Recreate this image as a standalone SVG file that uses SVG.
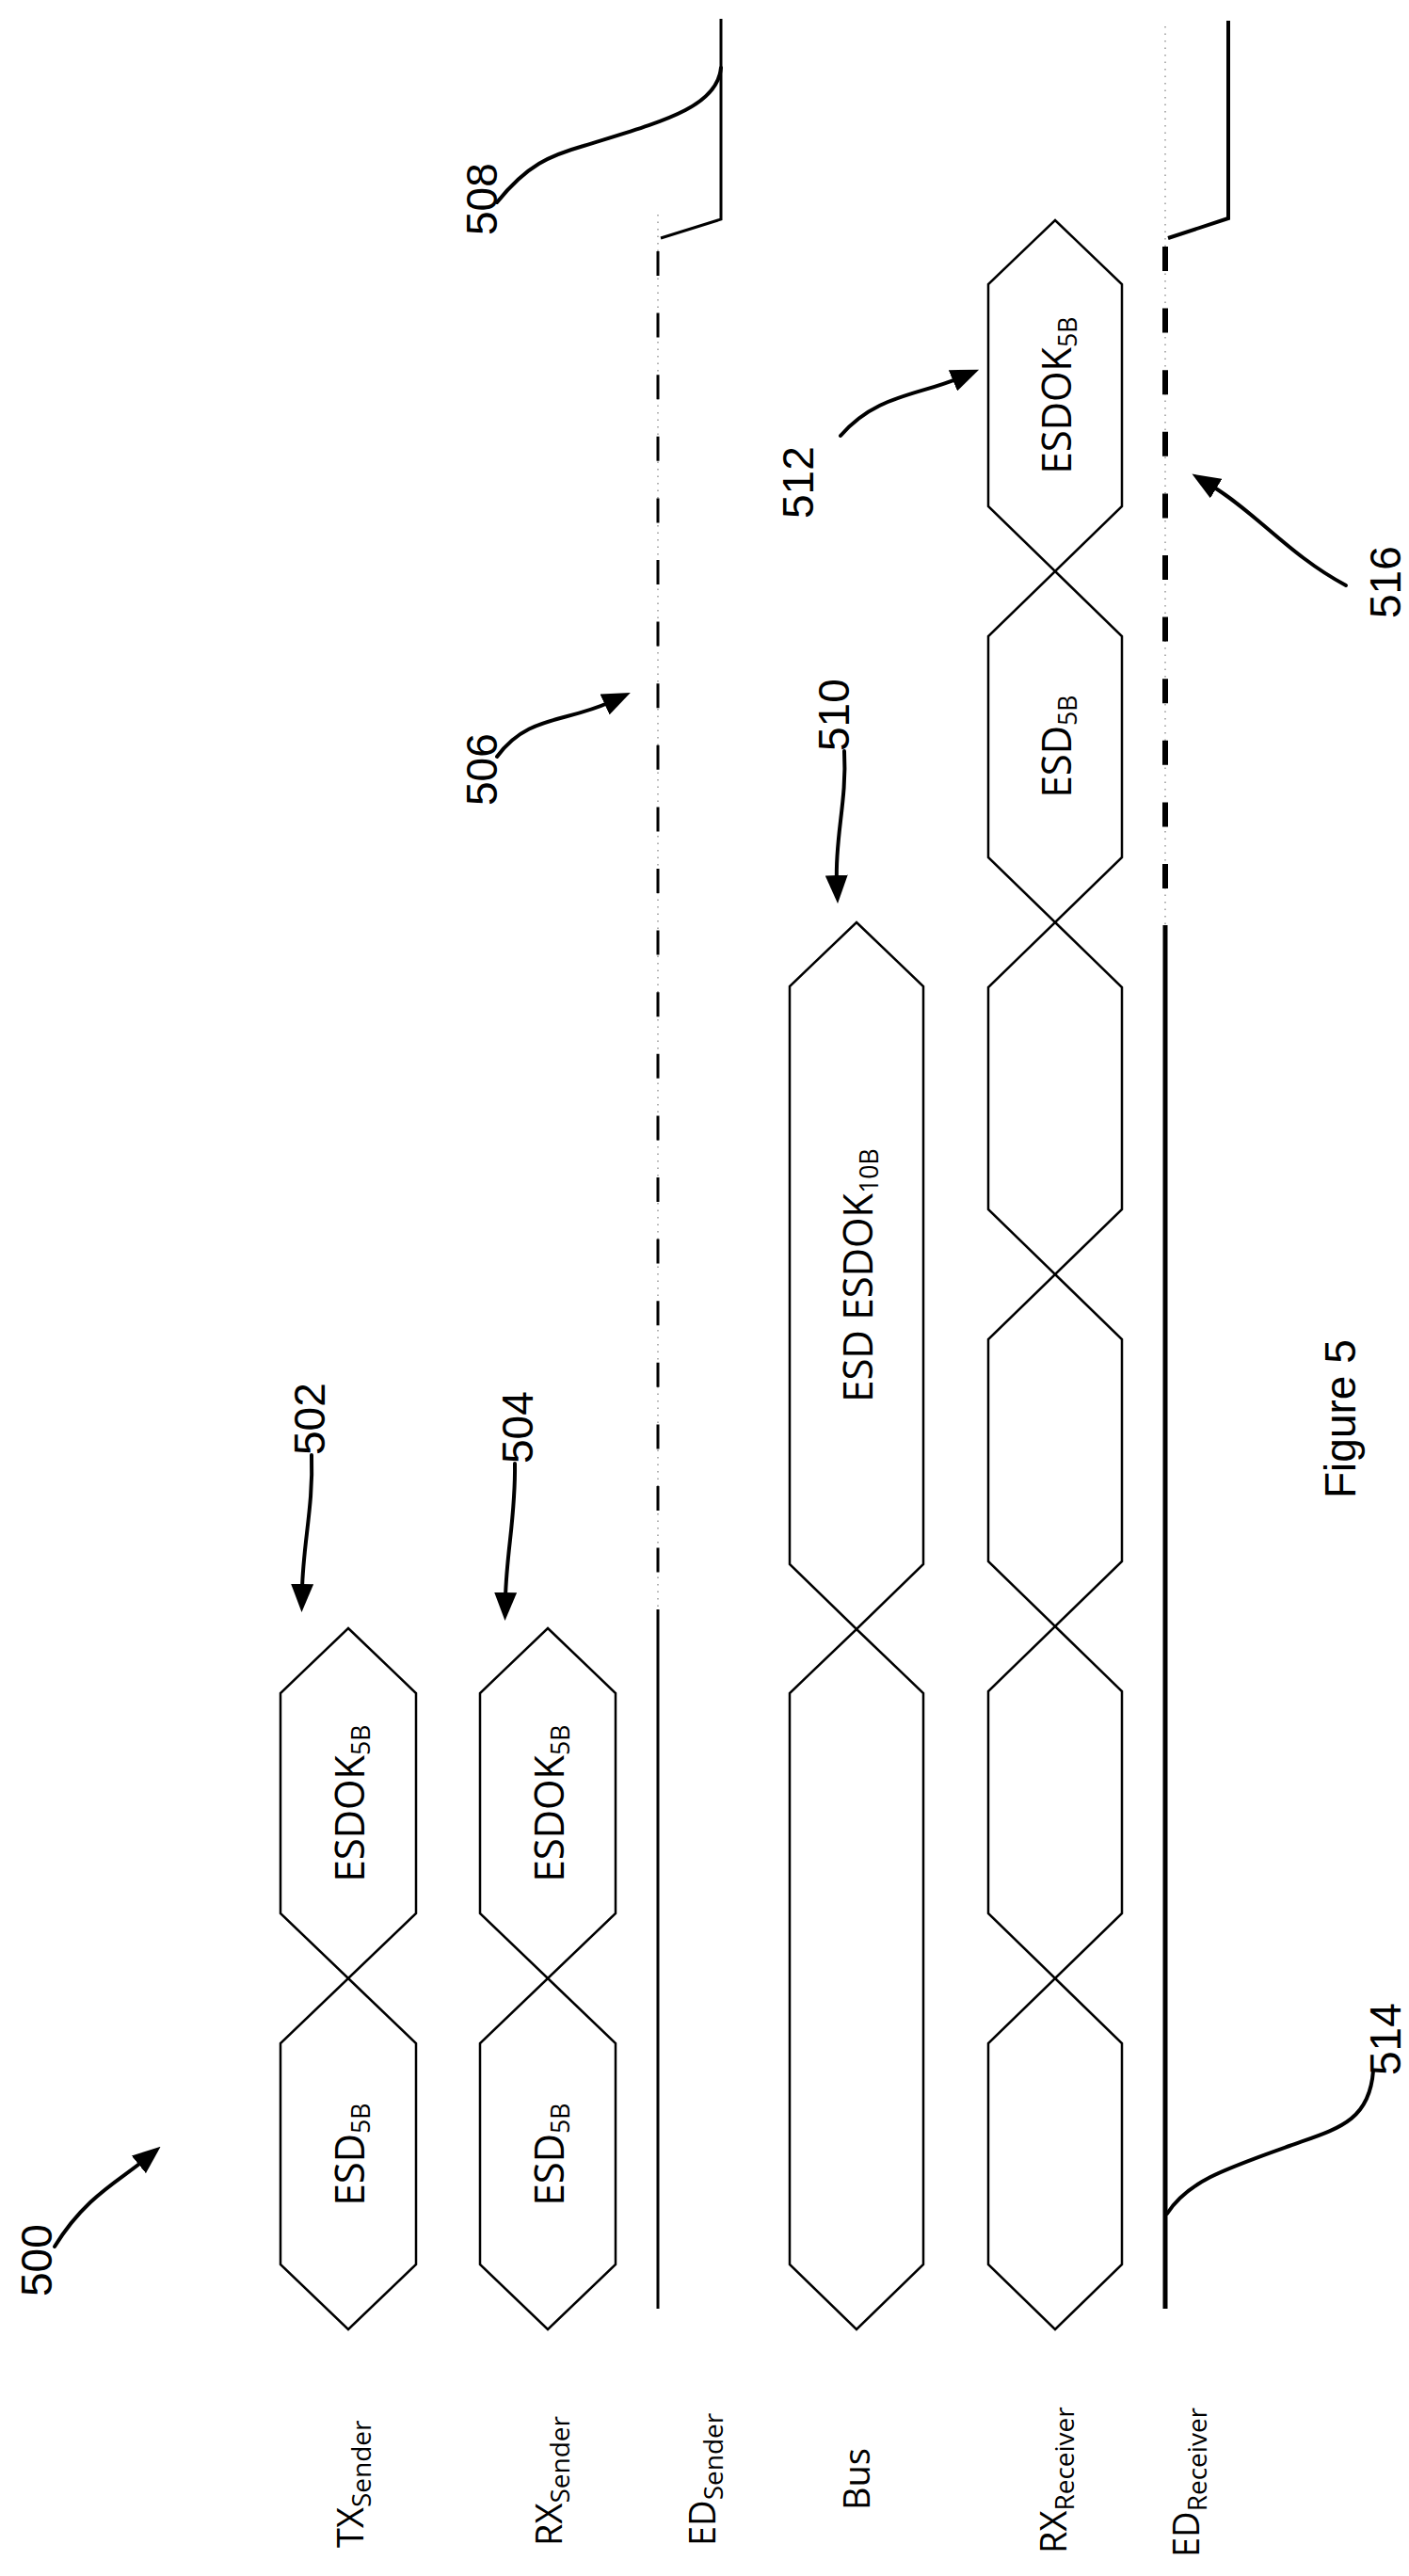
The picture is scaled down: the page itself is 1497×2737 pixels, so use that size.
<svg xmlns="http://www.w3.org/2000/svg" width="1497" height="2737" viewBox="0 0 1497 2737">
<style>
.hex{fill:none;stroke:#000;stroke-width:2.5;stroke-linejoin:miter}
.ht{font-family:"Open Sans","Liberation Sans",sans-serif;font-size:44px;fill:#000}
.lb{font-family:"Open Sans","Liberation Sans",sans-serif;font-size:38px;fill:#000}
.num{font-family:"Liberation Sans",Arial,sans-serif;font-size:46px;fill:#000}
.ld{fill:none;stroke:#000;stroke-width:4;stroke-linecap:round}
.arr{fill:none;stroke:#000;stroke-width:4;stroke-linecap:round;marker-end:url(#ah)}
.dot{stroke:#999;stroke-width:1.5;stroke-dasharray:1.5 6}
</style>
<defs>
<marker id="ah" markerUnits="userSpaceOnUse" markerWidth="30" markerHeight="24" refX="6" refY="12" orient="auto">
<path d="M0,0 L30,12 L0,24 Z" fill="#000"/>
</marker>
</defs>
<rect width="1497" height="2737" fill="#fff"/>

<g id="labels">
<text class="lb" transform="translate(386,2707) rotate(-90)">TX<tspan font-size="28" dy="8">Sender</tspan></text>
<text class="lb" transform="translate(597,2705) rotate(-90)">RX<tspan font-size="28" dy="8">Sender</tspan></text>
<text class="lb" transform="translate(760,2705) rotate(-90)">ED<tspan font-size="28" dy="8">Sender</tspan></text>
<text class="lb" transform="translate(924,2667) rotate(-90)">Bus</text>
<text class="lb" transform="translate(1133,2713) rotate(-90)">RX<tspan font-size="28" dy="8">Receiver</tspan></text>
<text class="lb" transform="translate(1274,2717) rotate(-90)">ED<tspan font-size="28" dy="8">Receiver</tspan></text>
</g>

<g id="tx-sender">
<path class="hex" d="M370,1730 L442,1799 L442,2033 L370,2102 L298,2033 L298,1799 Z"/>
<path class="hex" d="M370,2102 L442,2171 L442,2406 L370,2475 L298,2406 L298,2171 Z"/>
<text class="ht" text-anchor="middle" transform="translate(387,1916) rotate(-90) scale(0.95,1)">ESDOK<tspan font-size="28" dy="6">5B</tspan></text>
<text class="ht" text-anchor="middle" transform="translate(387,2289) rotate(-90) scale(0.95,1)">ESD<tspan font-size="28" dy="6">5B</tspan></text>
</g>

<g id="rx-sender">
<path class="hex" d="M582,1730 L654,1799 L654,2033 L582,2102 L510,2033 L510,1799 Z"/>
<path class="hex" d="M582,2102 L654,2171 L654,2406 L582,2475 L510,2406 L510,2171 Z"/>
<text class="ht" text-anchor="middle" transform="translate(599,1916) rotate(-90) scale(0.95,1)">ESDOK<tspan font-size="28" dy="6">5B</tspan></text>
<text class="ht" text-anchor="middle" transform="translate(599,2289) rotate(-90) scale(0.95,1)">ESD<tspan font-size="28" dy="6">5B</tspan></text>
</g>

<g id="ed-sender">
<line class="dot" x1="699" y1="228" x2="699" y2="2453"/>
<path d="M766,20 L766,233 L702,253" fill="none" stroke="#000" stroke-width="3"/>
<line x1="699" y1="267" x2="699" y2="1710" stroke="#000" stroke-width="3" stroke-dasharray="26 39.6"/>
<line x1="699" y1="1710" x2="699" y2="2453" stroke="#000" stroke-width="3"/>
</g>

<g id="bus">
<path class="hex" d="M910,980 L981,1048 L981,1662 L910,1731 L839,1662 L839,1048 Z"/>
<path class="hex" d="M910,1731 L981,1799 L981,2406 L910,2475 L839,2406 L839,1799 Z"/>
<text class="ht" text-anchor="middle" transform="translate(927,1355) rotate(-90) scale(0.95,1)">ESD ESDOK<tspan font-size="28" dy="6">10B</tspan></text>
</g>

<g id="rx-receiver">
<path class="hex" d="M1121,234 L1192,302 L1192,538 L1121,607 L1050,538 L1050,302 Z"/>
<path class="hex" d="M1121,607 L1192,676 L1192,911 L1121,980 L1050,911 L1050,676 Z"/>
<path class="hex" d="M1121,980 L1192,1049 L1192,1285 L1121,1354 L1050,1285 L1050,1049 Z"/>
<path class="hex" d="M1121,1354 L1192,1423 L1192,1659 L1121,1728 L1050,1659 L1050,1423 Z"/>
<path class="hex" d="M1121,1728 L1192,1797 L1192,2033 L1121,2102 L1050,2033 L1050,1797 Z"/>
<path class="hex" d="M1121,2102 L1192,2171 L1192,2406 L1121,2475 L1050,2406 L1050,2171 Z"/>
<text class="ht" text-anchor="middle" transform="translate(1138,420) rotate(-90) scale(0.95,1)">ESDOK<tspan font-size="28" dy="6">5B</tspan></text>
<text class="ht" text-anchor="middle" transform="translate(1138,793) rotate(-90) scale(0.95,1)">ESD<tspan font-size="28" dy="6">5B</tspan></text>
</g>

<g id="ed-receiver">
<line class="dot" x1="1238" y1="28" x2="1238" y2="2453"/>
<path d="M1305,22 L1305,232 L1241,253" fill="none" stroke="#000" stroke-width="4"/>
<line x1="1238" y1="262" x2="1238" y2="983" stroke="#000" stroke-width="6" stroke-dasharray="26 39.6"/>
<line x1="1238" y1="983" x2="1238" y2="2453" stroke="#000" stroke-width="5"/>
</g>

<g id="refs">
<text class="num" transform="translate(55,2440) rotate(-90)">500</text>
<text class="num" transform="translate(528,250) rotate(-90)">508</text>
<text class="num" transform="translate(528,856) rotate(-90)">506</text>
<text class="num" transform="translate(864,551) rotate(-90)">512</text>
<text class="num" transform="translate(1488,657) rotate(-90)">516</text>
<text class="num" transform="translate(902,798) rotate(-90)">510</text>
<text class="num" transform="translate(345,1546) rotate(-90)">502</text>
<text class="num" transform="translate(566,1555) rotate(-90)">504</text>
<text class="num" transform="translate(1488,2205) rotate(-90)">514</text>
<text class="num" font-size="48" transform="translate(1440,1592) rotate(-90)">Figure 5</text>
</g>

<g id="connectors">
<path class="arr" d="M58,2387 C90,2335 125,2318 152,2296"/>
<path class="arr" d="M528,804 C560,760 600,768 648,746"/>
<path class="arr" d="M893,463 C930,420 975,420 1018,402"/>
<path class="arr" d="M1430,622 C1370,590 1335,545 1287,516"/>
<path class="arr" d="M897,798 C900,850 887,890 889,936"/>
<path class="arr" d="M331,1546 C333,1600 322,1640 321,1689"/>
<path class="arr" d="M547,1555 C548,1610 538,1650 537,1698"/>
<path class="ld" d="M528,215 C560,175 585,165 620,155 C700,130 762,115 766,72"/>
<path class="ld" d="M1459,2200 C1455,2255 1420,2262 1370,2280 C1300,2305 1262,2318 1240,2352"/>
</g>
</svg>
